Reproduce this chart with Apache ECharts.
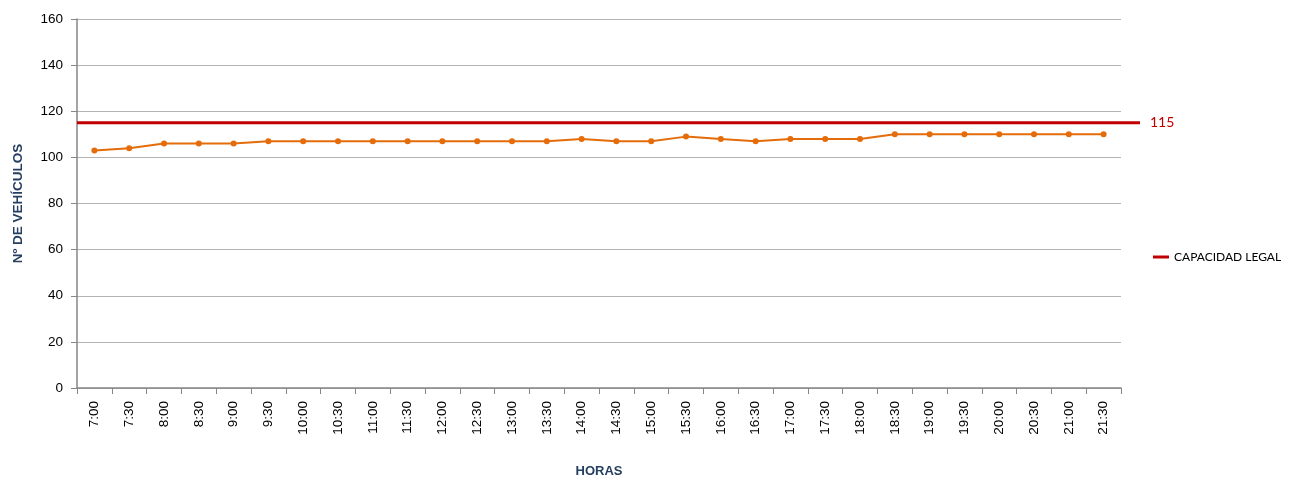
<!DOCTYPE html>
<html>
<head>
<meta charset="utf-8">
<script src="https://cdn.jsdelivr.net/npm/echarts@6/dist/echarts.min.js"></script>
<style>
  html, body { margin: 0; padding: 0; background: #fff; }
  #chart { width: 1293px; height: 480px; }
</style>
</head>
<body>
<div id="chart"></div>
<script>
const horas = ['7:00', '7:30', '8:00', '8:30', '9:00', '9:30', '10:00', '10:30', '11:00', '11:30',
  '12:00', '12:30', '13:00', '13:30', '14:00', '14:30', '15:00', '15:30', '16:00', '16:30',
  '17:00', '17:30', '18:00', '18:30', '19:00', '19:30', '20:00', '20:30', '21:00', '21:30']
const vehiculos = [103, 104, 106, 106, 106, 107, 107, 107, 107, 107,
  107, 107, 107, 107, 108, 107, 107, 109, 108, 107,
  108, 108, 108, 110, 110, 110, 110, 110, 110, 110]
const capacidadLegal = 115
const yTicks = { min: 0, max: 160, interval: 20 }

const AXIS_FONT = 'Liberation Sans, Arial, sans-serif'
const RED = '#c00000'
const ORANGE = '#e46c0a'

const chart = echarts.init(document.getElementById('chart'))

chart.setOption({
  animation: false,
  textStyle: { fontFamily: AXIS_FONT },
  grid: [
    { left: 77, top: 19, right: 172, bottom: 92, outerBoundsMode: 'none' },
    { left: 77, top: 19, right: 153, bottom: 92, outerBoundsMode: 'none' }
  ],
  legend: {
    data: ['CAPACIDAD LEGAL'],
    orient: 'vertical',
    left: 1148,
    top: 246,
    itemWidth: 16,
    itemHeight: 3,
    itemGap: 6,
    icon: 'rect',
    textStyle: { fontFamily: 'Lato, Noto Sans, sans-serif', fontSize: 12, color: '#000' }
  },
  xAxis: [
    {
      type: 'category',
      gridIndex: 0,
      data: horas,
      boundaryGap: true,
      name: 'HORAS',
      nameLocation: 'middle',
      nameGap: 77,
      nameTextStyle: { fontWeight: 'bold', fontSize: 13, color: '#243f60', fontFamily: AXIS_FONT },
      axisLine: { lineStyle: { color: '#868686', width: 1.5 } },
      axisTick: { show: true, length: 6, interval: 0, lineStyle: { color: '#868686' } },
      axisLabel: { rotate: 90, interval: 0, fontSize: 13.5, color: '#000', margin: 13 }
    },
    {
      type: 'value',
      gridIndex: 1,
      min: 0,
      max: 1,
      show: false
    }
  ],
  yAxis: [
    {
      type: 'value',
      gridIndex: 0,
      min: yTicks.min,
      max: yTicks.max,
      interval: yTicks.interval,
      name: 'Nº DE VEHÍCULOS',
      nameLocation: 'middle',
      nameGap: 52,
      nameRotate: 90,
      nameTextStyle: { fontWeight: 'bold', fontSize: 13.5, color: '#243f60', fontFamily: AXIS_FONT },
      axisLine: { show: true, lineStyle: { color: '#868686', width: 1.5 } },
      axisTick: { show: true, length: 6, lineStyle: { color: '#868686' } },
      axisLabel: { fontSize: 13.5, color: '#000', margin: 14 },
      splitLine: { lineStyle: { color: '#b3b3b3', width: 1 } }
    },
    {
      type: 'value',
      gridIndex: 1,
      min: yTicks.min,
      max: yTicks.max,
      show: false
    }
  ],
  series: [
    {
      name: 'Vehículos',
      type: 'line',
      xAxisIndex: 0,
      yAxisIndex: 0,
      data: vehiculos,
      symbol: 'circle',
      symbolSize: 6,
      lineStyle: { color: ORANGE, width: 2 },
      itemStyle: { color: ORANGE },
      z: 3
    },
    {
      name: 'CAPACIDAD LEGAL',
      type: 'line',
      xAxisIndex: 1,
      yAxisIndex: 1,
      data: [[0, capacidadLegal], [1, capacidadLegal]],
      symbol: 'none',
      lineStyle: { color: RED, width: 3 },
      itemStyle: { color: RED },
      endLabel: {
        show: true,
        formatter: String(capacidadLegal),
        color: RED,
        fontSize: 14,
        fontFamily: 'Lato, Noto Sans, sans-serif',
        distance: 10
      },
      z: 4
    }
  ]
})
</script>
</body>
</html>
